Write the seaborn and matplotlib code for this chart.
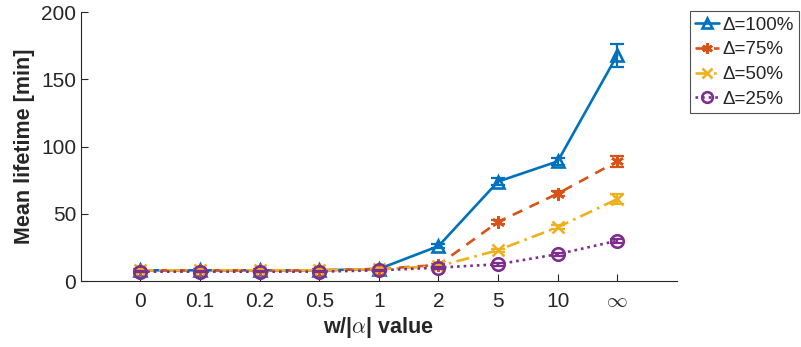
import numpy as np
import pandas as pd
import seaborn as sns
import matplotlib.pyplot as plt

tick_labels = ['0', '0.1', '0.2', '0.5', '1', '2', '5', '10', r'$\infty$']
series = ['Δ=100%', 'Δ=75%', 'Δ=50%', 'Δ=25%']
d100 = [8, 8, 8, 8, 9, 26, 74, 89, 168]
d75 = [8, 8, 8, 8, 9, 12, 44, 65, 89]
d50 = [8, 8, 8, 8, 9, 11, 23, 40, 61]
d25 = [7, 7, 7, 7, 8, 10, 12.5, 20, 30]
e100 = [0.8, 0.8, 0.8, 0.8, 0.8, 1.5, 2.5, 2.5, 8.5]
e75 = [0.6, 0.6, 0.6, 0.6, 0.6, 1, 1.5, 2, 4]
e50 = [0.6, 0.6, 0.6, 0.6, 0.6, 1, 1.2, 1.5, 3.5]
e25 = [0.5, 0.5, 0.5, 0.5, 0.5, 0.8, 1, 1, 1.5]

sns.set_style("ticks")
plt.rcParams['font.family'] = ['Liberation Sans', 'DejaVu Sans']
plt.rcParams['mathtext.fontset'] = 'cm'

colors = ['#0072BD', '#D95319', '#EDB120', '#7E2F8E']
markers = ['^', (6, 2, 0), 'x', 'o']
styles = ['-', (0, (4, 3)), (0, (5, 2, 1, 2)), (0, (1, 1.5))]

pos = np.arange(1, 10)
df = pd.DataFrame({
    'x': np.tile(pos, 4),
    'y': d100 + d75 + d50 + d25,
    'Delta': np.repeat(series, 9),
})
errs = [e100, e75, e50, e25]
vals = [d100, d75, d50, d25]

fig = plt.figure(figsize=(8.01, 3.47), dpi=100)
ax = fig.add_axes([0.101, 0.190, 0.744, 0.775])

for i, s in enumerate(series):
    sub = df[df.Delta == s]
    sns.lineplot(data=sub, x='x', y='y', ax=ax, color=colors[i], lw=1.9,
                 linestyle=styles[i], marker=markers[i], markersize=9,
                 markerfacecolor='none', markeredgecolor=colors[i],
                 markeredgewidth=1.9, label=s)
    ax.errorbar(pos, vals[i], yerr=errs[i], fmt='none', ecolor=colors[i],
                elinewidth=1.6, capsize=5, capthick=1.6)

ax.set_xlim(0, 10)
ax.set_ylim(0, 200)
ax.set_xticks(pos)
ax.set_xticklabels(tick_labels)
ax.set_yticks([0, 50, 100, 150, 200])
ax.tick_params(labelsize=15, colors='#262626', direction='in', length=5, width=0.8)
ax.tick_params(axis='x', pad=8)
ax.set_xlabel(r'w/|$\alpha$| value', fontsize=15.5, fontweight='bold', color='#262626', labelpad=3)
ax.set_ylabel('Mean lifetime [min]', fontsize=15.5, fontweight='bold', color='#262626', labelpad=4)
sns.despine(ax=ax)
for sp in ['left', 'bottom']:
    ax.spines[sp].set_color('#262626')
    ax.spines[sp].set_linewidth(0.8)

leg = ax.legend(loc='upper left', bbox_to_anchor=(0.861, 0.968),
                bbox_transform=fig.transFigure, fontsize=13.5, frameon=True,
                fancybox=False, edgecolor='#262626', handlelength=1.25,
                handletextpad=0.2, borderpad=0.3, labelspacing=0.4,
                borderaxespad=0, markerscale=0.85)
leg.get_frame().set_linewidth(0.8)

fig.savefig('out.png', dpi=100)
